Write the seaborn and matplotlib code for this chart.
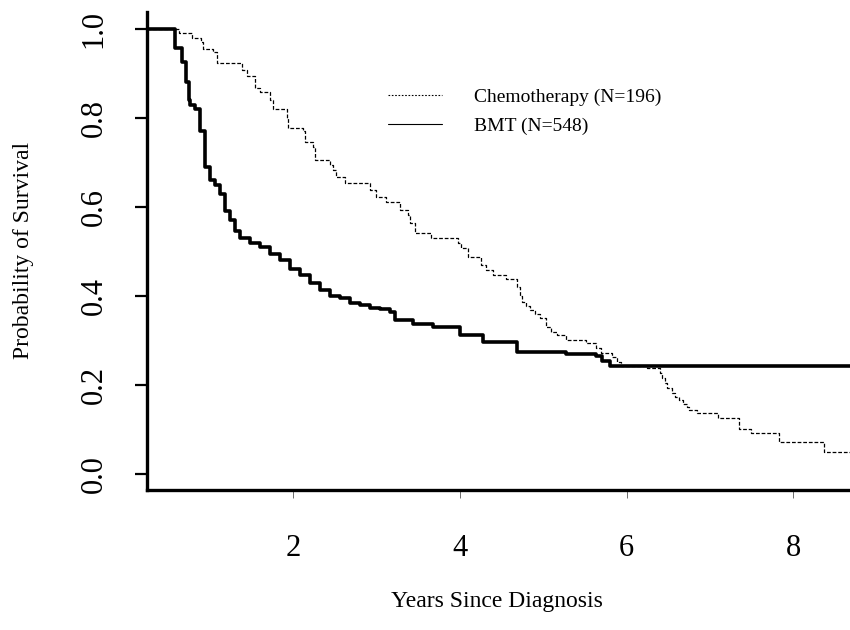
import pandas as pd
import numpy as np
import seaborn as sns
import matplotlib.pyplot as plt
from matplotlib.lines import Line2D

# Kaplan-Meier curves
bmt_years = [0.25, 0.59, 0.67, 0.72, 0.75, 0.77, 0.83, 0.89, 0.95, 1.0, 1.07, 1.13,
             1.19, 1.25, 1.31, 1.37, 1.49, 1.6, 1.72, 1.84, 1.96, 2.08, 2.2, 2.32,
             2.44, 2.56, 2.68, 2.8, 2.92, 3.04, 3.16, 3.22, 3.44, 3.68, 4.0, 4.28,
             4.69, 5.28, 5.64, 5.71, 5.8, 8.68]
bmt_surv = [1.0, 0.957, 0.925, 0.88, 0.84, 0.83, 0.82, 0.77, 0.69, 0.66, 0.65, 0.63,
            0.59, 0.57, 0.545, 0.53, 0.52, 0.51, 0.495, 0.48, 0.46, 0.447, 0.43, 0.413,
            0.40, 0.395, 0.384, 0.38, 0.373, 0.37, 0.364, 0.345, 0.338, 0.33, 0.312, 0.297,
            0.274, 0.27, 0.265, 0.254, 0.243, 0.243]

chemo_years = [0.25, 0.63, 0.79, 0.90, 0.92, 1.04, 1.09, 1.39, 1.45, 1.54, 1.60, 1.72,
               1.76, 1.93, 1.94, 2.12, 2.15, 2.24, 2.27, 2.44, 2.48, 2.52, 2.62, 2.92,
               3.0, 3.12, 3.28, 3.38, 3.40, 3.46, 3.66, 3.98, 4.02, 4.10, 4.26, 4.32,
               4.40, 4.56, 4.69, 4.72, 4.75, 4.80, 4.84, 4.90, 4.96, 5.04, 5.10, 5.17,
               5.28, 5.52, 5.64, 5.70, 5.83, 5.89, 5.93, 6.25, 6.40, 6.42, 6.46, 6.49,
               6.54, 6.58, 6.63, 6.68, 6.72, 6.75, 6.85, 7.10, 7.35, 7.49, 7.83, 8.37, 8.68]
chemo_surv = [1.0, 0.99, 0.98, 0.97, 0.955, 0.948, 0.923, 0.908, 0.894, 0.867, 0.858, 0.84,
              0.82, 0.80, 0.778, 0.77, 0.746, 0.735, 0.706, 0.694, 0.683, 0.667, 0.654, 0.638,
              0.623, 0.61, 0.593, 0.582, 0.564, 0.542, 0.530, 0.519, 0.508, 0.488, 0.470, 0.458,
              0.447, 0.438, 0.42, 0.40, 0.387, 0.378, 0.369, 0.36, 0.351, 0.330, 0.32, 0.312,
              0.301, 0.294, 0.283, 0.272, 0.263, 0.252, 0.243, 0.238, 0.227, 0.216, 0.205, 0.193,
              0.182, 0.174, 0.166, 0.158, 0.151, 0.144, 0.137, 0.126, 0.101, 0.092, 0.072, 0.049, 0.049]

x_ticks = [2, 4, 6, 8]
y_ticks = [0.0, 0.2, 0.4, 0.6, 0.8, 1.0]
legend_labels = ["Chemotherapy (N=196)", "BMT (N=548)"]

sns.set_style("ticks", {'axes.edgecolor': 'black', 'text.color': 'black',
                        'xtick.color': 'black', 'ytick.color': 'black'})
plt.rcParams['font.family'] = ['Liberation Serif', 'DejaVu Serif']

fig = plt.figure(figsize=(8.5, 6.3), dpi=100)
ax = fig.add_axes([147/850, 1 - 490/630, 1 - 147/850, (490 - 12)/630])

bmt = pd.DataFrame({'years': bmt_years, 'surv': bmt_surv})
chemo = pd.DataFrame({'years': chemo_years, 'surv': chemo_surv})

sns.lineplot(data=chemo, x='years', y='surv', ax=ax, estimator=None, color='black',
             linewidth=0.9, linestyle=(0, (3, 1.5)), drawstyle='steps-post')
sns.lineplot(data=bmt, x='years', y='surv', ax=ax, estimator=None, color='black',
             linewidth=2.6, drawstyle='steps-post')

ax.set_xlim(0.25, 8.68)
ax.set_ylim(-0.036, 1.038)
ax.set_xticks(x_ticks)
ax.set_xticklabels([str(t) for t in x_ticks], fontsize=22, color='black')
ax.set_yticks(y_ticks)
ax.set_yticklabels([f"{t:.1f}" for t in y_ticks], fontsize=22, rotation=90, va='center',
                   color='black')
ax.tick_params(axis='y', direction='out', length=8.5, width=1.6, pad=19, color='black')
ax.tick_params(axis='x', direction='out', length=5.5, width=0.6, color='#555555', pad=26)

sns.despine(ax=ax, top=True, right=True)
ax.spines['left'].set_linewidth(2.4)
ax.spines['bottom'].set_linewidth(2.4)
ax.spines['left'].set_color('black')
ax.spines['bottom'].set_color('black')
ax.set_xlabel('')
ax.set_ylabel('')

fig.text(24/850, 1 - 250/630, "Probability of Survival", rotation=90, fontsize=17,
         ha='center', va='center', color='black')
fig.text(497/850, 1 - 602/630, "Years Since Diagnosis", fontsize=17,
         ha='center', va='center', color='black')

handles = [Line2D([], [], color='black', linewidth=0.8, linestyle=(0, (1.5, 1.5))),
           Line2D([], [], color='black', linewidth=0.8)]
ax.legend(handles, legend_labels, loc='upper left', bbox_to_anchor=(370/850, 1 - 71/630),
          bbox_transform=fig.transFigure, frameon=False, fontsize=14, handlelength=2.8,
          handletextpad=1.65, labelspacing=0.55, labelcolor='black')

fig.savefig('out.png', dpi=100)
